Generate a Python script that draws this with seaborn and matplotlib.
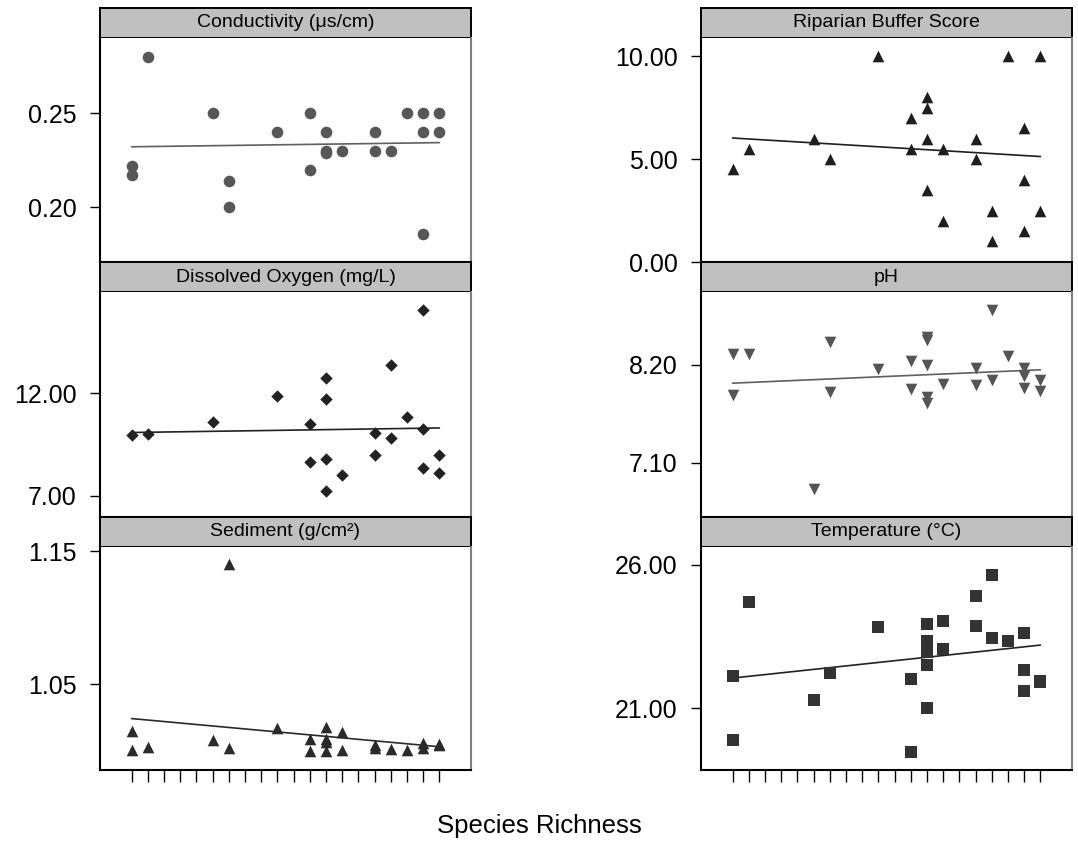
import numpy as np
import matplotlib.pyplot as plt
import seaborn as sns

# species richness positions (20 unlabeled ticks)
richness_ticks = list(range(1, 21))

# Conductivity (us/cm)
cond_x = [1, 1, 2, 6, 7, 7, 10, 12, 12, 13, 13, 13, 14, 16, 16, 17, 18, 19, 19, 19, 20, 20]
cond_y = [0.222, 0.217, 0.280, 0.250, 0.214, 0.200, 0.240, 0.250, 0.220, 0.240, 0.230, 0.229,
          0.230, 0.240, 0.230, 0.230, 0.250, 0.250, 0.240, 0.186, 0.250, 0.240]

# Dissolved oxygen (mg/L)
do_x = [1, 2, 6, 10, 12, 12, 13, 13, 13, 13, 14, 16, 16, 17, 17, 18, 19, 19, 19, 20, 20]
do_y = [9.96, 10.03, 10.62, 11.84, 10.50, 8.66, 12.73, 11.74, 8.79, 7.23, 8.00, 10.07, 9.00,
        13.35, 9.82, 10.83, 16.04, 10.28, 8.34, 8.99, 8.12]

# Sediment (g/cm2)
sed_x = [1, 1, 2, 6, 7, 7, 10, 12, 12, 13, 13, 13, 13, 14, 14, 16, 16, 17, 18, 19, 19, 20, 20]
sed_y = [1.015, 1.001, 1.003, 1.0085, 1.140, 1.002, 1.017, 1.009, 1.000, 1.018, 1.009, 1.0065,
         1.000, 1.014, 1.001, 1.0047, 1.0025, 1.0017, 1.001, 1.0057, 1.0022, 1.0052, 1.0042]

# Riparian buffer score
rip_x = [1, 2, 6, 7, 10, 12, 12, 13, 13, 13, 13, 14, 14, 16, 16, 17, 17, 18, 19, 19, 19, 20, 20]
rip_y = [4.5, 5.5, 6.0, 5.0, 10.0, 7.0, 5.5, 8.0, 7.5, 6.0, 3.5, 5.5, 2.0, 6.0, 5.0, 2.5, 1.0,
         10.0, 6.5, 4.0, 1.5, 10.0, 2.5]

# pH
ph_x = [1, 1, 2, 6, 7, 7, 10, 12, 12, 13, 13, 13, 13, 13, 14, 16, 16, 17, 17, 18, 19, 19, 19, 20, 20]
ph_y = [8.32, 7.86, 8.32, 6.81, 8.46, 7.89, 8.15, 8.24, 7.93, 8.51, 8.48, 8.20, 7.84, 7.77, 7.99,
        8.17, 7.97, 8.82, 8.03, 8.30, 8.17, 8.07, 7.94, 8.03, 7.91]

# Temperature (C)
temp_x = [1, 1, 2, 6, 7, 10, 12, 12, 13, 13, 13, 13, 13, 13, 14, 14, 16, 16, 17, 17, 18, 19, 19, 19, 20, 20]
temp_y = [22.11, 19.91, 24.72, 21.28, 22.24, 23.83, 22.03, 19.46, 23.94, 23.34, 23.13, 22.96, 22.50,
          21.01, 24.06, 23.06, 24.93, 23.88, 25.65, 23.45, 23.34, 23.64, 22.33, 21.61, 21.95, 21.92]

sns.set_style("white")
plt.rcParams['font.family'] = ['Liberation Sans', 'DejaVu Sans']
plt.rcParams['text.color'] = 'black'
plt.rcParams['xtick.color'] = 'black'
plt.rcParams['ytick.color'] = 'black'

W, H = 1078, 846
fig = plt.figure(figsize=(W / 100, H / 100), dpi=100)

def px_box(left, top, width, height):
    return [left / W, 1 - (top + height) / H, width / W, height / H]

rows = [(8, 38, 262), (262, 292, 517), (517, 547, 770)]
cols = [100, 701]
col_w = 371

def panel(col, row, title, x, y, ylim, yticks, marker, color, line_color, size):
    left = cols[col]
    h_top, p_top, p_bot = rows[row]
    # header strip
    hax = fig.add_axes(px_box(left, h_top, col_w, p_top - h_top))
    hax.set_facecolor("#c0c0c0")
    hax.set_xticks([])
    hax.set_yticks([])
    for s in hax.spines.values():
        s.set_color("black")
        s.set_linewidth(1.4)
    hax.text(0.5, 0.5, title, ha="center", va="center", fontsize=14, color="black",
             transform=hax.transAxes)
    # panel
    ax = fig.add_axes(px_box(left, p_top, col_w, p_bot - p_top))
    sns.regplot(x=x, y=y, ax=ax, scatter=False, ci=None, truncate=True,
                line_kws=dict(color=line_color, lw=1.2))
    sns.scatterplot(x=x, y=y, ax=ax, marker=marker, color=color, s=size, linewidth=0, zorder=3)
    ax.set_xlim(-0.95, 21.95)
    ax.set_ylim(*ylim)
    ax.set_yticks(yticks)
    ax.set_yticklabels(["%.2f" % v for v in yticks])
    ax.tick_params(axis="y", direction="out", length=7, width=1, labelsize=18, pad=10,
                   left=True, colors="black")
    if row == 2:
        ax.set_xticks(richness_ticks)
        ax.set_xticklabels([])
        ax.tick_params(axis="x", direction="out", length=8.5, width=1, bottom=True, colors="black")
    else:
        ax.set_xticks([])
    ax.set_xlabel("")
    ax.set_ylabel("")
    ax.spines["top"].set_visible(False)
    ax.spines["left"].set_color("black")
    ax.spines["bottom"].set_color("black")
    ax.spines["right"].set_color("#808080")
    for s in ["left", "bottom", "right"]:
        ax.spines[s].set_linewidth(1.5)
    return ax

panel(0, 0, "Conductivity (\u03bcs/cm)", cond_x, cond_y, (0.171, 0.290), [0.20, 0.25],
      "o", "#575757", "#606060", 70)
panel(0, 1, "Dissolved Oxygen (mg/L)", do_x, do_y, (5.97, 16.93), [7.0, 12.0],
      "D", "#222222", "#222222", 40)
panel(0, 2, "Sediment (g/cm\u00b2)", sed_x, sed_y, (0.9858, 1.153), [1.05, 1.15],
      "^", "#2a2a2a", "#2a2a2a", 70)
panel(1, 0, "Riparian Buffer Score", rip_x, rip_y, (0.0, 10.89), [0.0, 5.0, 10.0],
      "^", "#1e1e1e", "#1e1e1e", 70)
panel(1, 1, "pH", ph_x, ph_y, (6.492, 9.018), [7.10, 8.20],
      "v", "#555555", "#606060", 70)
panel(1, 2, "Temperature (\u00b0C)", temp_x, temp_y, (18.847, 26.625), [21.0, 26.0],
      "s", "#333333", "#222222", 70)

fig.text(0.5, 1 - 826 / H, "Species Richness", ha="center", va="center", fontsize=18.5,
         color="black")

fig.savefig("out.png", dpi=100)
